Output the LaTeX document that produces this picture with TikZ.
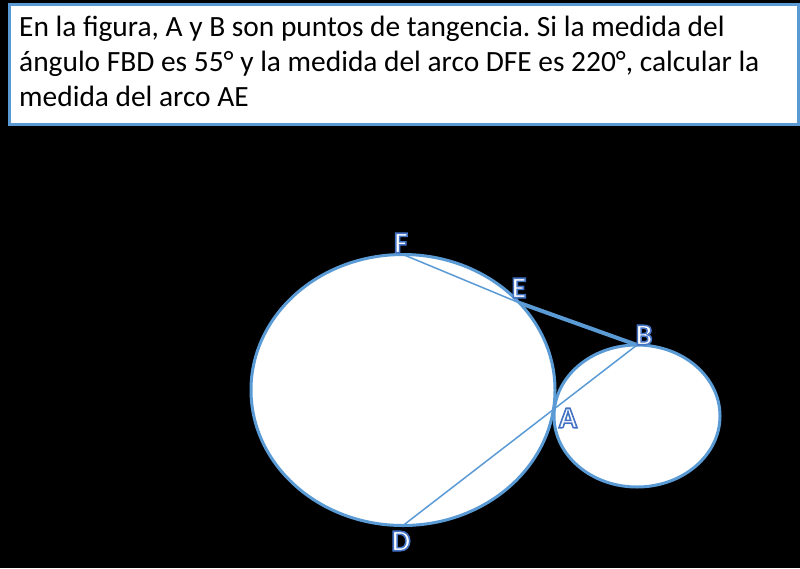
\documentclass[tikz,border=0pt]{standalone}
\usepackage{fontspec}
\setmainfont{Carlito}
\usetikzlibrary{calc}
\frenchspacing
\definecolor{lineblue}{HTML}{5B9BD5}
\definecolor{boxblue}{HTML}{5B9BD5}
\definecolor{labblue}{HTML}{4472C4}
\tikzset{
  txt/.style={anchor=base west, inner sep=0pt, font=\fontsize{29.4}{34}\selectfont, text=black},
  circ/.style={draw=lineblue, line width=3pt, fill=white},
  thin/.style={draw=lineblue, line width=1.5pt},
  thick/.style={draw=lineblue, line width=4pt},
  lab/.style={inner sep=0pt, font=\fontsize{30}{34}\selectfont\bfseries, text=white}
}
\newcommand{\lbl}[1]{\special{pdf:literal direct 2 Tr 1.6 w 0.267 0.447 0.769 RG}#1\special{pdf:literal direct 0 Tr}}
\begin{document}
\begin{tikzpicture}[x=1pt,y=-1pt]
\useasboundingbox (0,0) rectangle (800,568);
\fill[black] (0,0) rectangle (800,568);
% text box
\node[draw=boxblue, line width=3pt, fill=white, minimum width=789pt, minimum height=120pt, anchor=north west, inner sep=0pt] (box) at (7.5,2.5) {};
\node[txt] (l1) at (19,36) {En la figura, A y B son puntos de tangencia. Si la medida del};
\node[txt] (l2) at (19,71) {ángulo FBD es 55° y la medida del arco DFE es 220°, calcular la};
\node[txt] (l3) at (19,106) {medida del arco AE};
% circles
\coordinate (bigc) at (403,390);
\coordinate (smallc) at (637,416);
\draw[circ] (bigc) ellipse [x radius=152, y radius=135.5];
\draw[circ] (smallc) ellipse [x radius=83, y radius=71];
% points
\coordinate (F) at (403,254.5);
\coordinate (E) at ($(bigc)+(40:152 and -135.5)$);
\coordinate (B) at (637,345);
\coordinate (D) at (403,525.5);
\coordinate (A) at (554,410);
% lines
\draw[thin] (F) -- (E);
\draw[thick] (E) -- (B);
\draw[thin] (D) -- (B);
% labels
\node[lab] (lF) at (401,243) {\lbl{F}};
\node[lab] (lE) at (519,288) {\lbl{E}};
\node[lab] (lB) at (644,335) {\lbl{B}};
\node[lab] (lA) at (568,418) {\lbl{A}};
\node[lab] (lD) at (401,541) {\lbl{D}};
\end{tikzpicture}
\end{document}
